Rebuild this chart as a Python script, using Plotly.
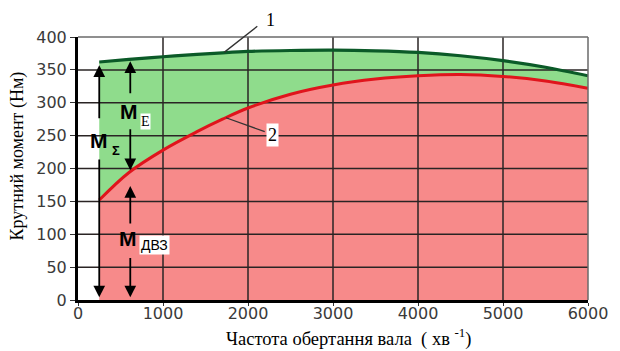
import numpy as np
import plotly.graph_objects as go

# Engine speed, rpm
rpm = [250, 600, 1000, 1400, 1700, 2000, 2500, 3000, 3500, 4000, 4500, 5000, 5500, 6000]
# Curve 1: total torque M_Σ (engine + electric motor), N·m
torque_total = [362, 366, 370, 373.5, 376, 378, 379.5, 380, 379, 376.5, 371.5, 364, 354, 341]
# Curve 2: internal combustion engine torque M_ДВЗ, N·m
torque_ice = [152, 194, 228, 256, 275, 292, 313, 327, 336, 341, 343, 340, 333, 322]

x_ticks = [0, 1000, 2000, 3000, 4000, 5000, 6000]
y_ticks = [0, 50, 100, 150, 200, 250, 300, 350, 400]

X_MAX, Y_MAX = 6000, 400
GREEN_FILL = "#8fdc8c"
RED_FILL = "#f78a8a"
GREEN_LINE = "#0b5a28"
RED_LINE = "#e0141c"
GRID = "#2a2424"
SERIF = "Liberation Serif"
SANS = "Liberation Sans"

fig = go.Figure()

# filled areas: engine share (red) below curve 2, electric share (green) between curves
fig.add_trace(go.Scatter(x=rpm, y=torque_ice, mode="lines", fill="tozeroy",
                         fillcolor=RED_FILL, line=dict(width=0, shape="spline"),
                         hoverinfo="skip", showlegend=False))
fig.add_trace(go.Scatter(x=rpm, y=torque_total, mode="lines", fill="tonexty",
                         fillcolor=GREEN_FILL, line=dict(width=0, shape="spline"),
                         hoverinfo="skip", showlegend=False))

# grid drawn over the fills
gx, gy = [], []
for t in x_ticks[1:-1]:
    gx += [t, t, None]
    gy += [0, Y_MAX, None]
for t in y_ticks[1:-1]:
    gx += [0, X_MAX, None]
    gy += [t, t, None]
fig.add_trace(go.Scatter(x=gx, y=gy, mode="lines", line=dict(color=GRID, width=1.5),
                         hoverinfo="skip", showlegend=False))

# the two torque curves
fig.add_trace(go.Scatter(x=rpm, y=torque_ice, mode="lines",
                         line=dict(color=RED_LINE, width=3, shape="spline"),
                         showlegend=False))
fig.add_trace(go.Scatter(x=rpm, y=torque_total, mode="lines",
                         line=dict(color=GREEN_LINE, width=3.2, shape="spline"),
                         showlegend=False))

annotations = []


def arrow(x, y_from, y_to):
    annotations.append(dict(x=x, y=y_to, ax=x, ay=y_from, xref="x", yref="y",
                            axref="x", ayref="y", text="", showarrow=True,
                            arrowhead=2, arrowsize=1.3, arrowwidth=1.8,
                            arrowcolor="black", standoff=0, startstandoff=0))


def leader(x0, y0, x1, y1):
    annotations.append(dict(x=x1, y=y1, ax=x0, ay=y0, xref="x", yref="y",
                            axref="x", ayref="y", text="", showarrow=True,
                            arrowhead=0, arrowwidth=1.3, arrowcolor="#333"))


def label(x, y, text, size, family, bg=None, bold=False, pad=1, yref="y"):
    annotations.append(dict(x=x, y=y, xref="x", yref=yref,
                            text=f"<b>{text}</b>" if bold else text,
                            showarrow=False, font=dict(size=size, family=family, color="black"),
                            bgcolor=bg, borderpad=pad, xanchor="center", yanchor="middle"))


# M_Σ arrow at the start of the curves
x1 = rpm[0]
arrow(x1, 274, torque_total[0] - 5)
arrow(x1, 216, 4)
label(x1 - 5, 243, "M", 21, SANS, bold=True)
label(447, 227, "Σ", 13, SANS, bold=True)

# M_E and M_ДВЗ arrows
x2 = 615
ice_at_x2 = float(np.interp(x2, rpm, torque_ice))
tot_at_x2 = float(np.interp(x2, rpm, torque_total))
arrow(x2, 312, tot_at_x2 - 3)
arrow(x2, 262, ice_at_x2 + 2)
arrow(x2, 114, ice_at_x2 - 22)
arrow(x2, 66, 4)
label(600, 286, "M", 21, SANS, bold=True)
label(790, 271, "E", 14, SERIF, bg="white", pad=0)
label(590, 93, "M", 21, SANS, bold=True)
label(902, 83, "ДВЗ", 14, SANS, bg="white", pad=1)

# curve markers ("1" sits above the top of the y range, so it is placed in paper units)
leader(2127, 418, 1723, 377)
label(2266, 426 / Y_MAX, "1", 18, SERIF, yref="paper")
leader(1723, 278, 2197, 256)
label(2289, 251, "2", 18, SERIF, bg="white", pad=1)

# axis titles
annotations.append(dict(x=0.5, y=0.0, xref="paper", yref="paper",
                        text="Частота обертання вала  ( хв <sup>-1</sup>)",
                        showarrow=False, xanchor="center", yanchor="bottom", xshift=15, yshift=-52,
                        font=dict(size=18.5, family=SERIF, color="black")))
annotations.append(dict(x=0.0, y=0.5, xref="paper", yref="paper", text="Крутний момент (Нм)",
                        showarrow=False, textangle=-90, xanchor="center", yanchor="middle",
                        xshift=-61, yshift=12, font=dict(size=18, family=SERIF, color="black")))

# light frame on the top and right
shapes = [
    dict(type="line", xref="paper", yref="paper", x0=1, x1=1, y0=0, y1=1,
         line=dict(color="#6a6a6a", width=1.5), layer="above"),
    dict(type="line", xref="paper", yref="paper", x0=0, x1=1, y0=1, y1=1,
         line=dict(color="#6a6a6a", width=1.5), layer="above"),
]

fig.update_layout(
    width=620, height=351,
    margin=dict(l=78, r=23, t=37, b=51),
    paper_bgcolor="white", plot_bgcolor="white",
    annotations=annotations, shapes=shapes,
    xaxis=dict(range=[0, X_MAX], tickvals=x_ticks, showgrid=False, zeroline=False,
               showline=True, linecolor="black", linewidth=3, ticks="outside", ticklen=3,
               tickcolor="#333", tickfont=dict(size=16, family="DejaVu Sans", color="#3a3a3a"),
               ticklabelstandoff=-6, layer="above traces"),
    yaxis=dict(range=[0, Y_MAX], tickvals=y_ticks, showgrid=False, zeroline=False,
               showline=True, linecolor="black", linewidth=3, ticks="outside", ticklen=5,
               tickcolor="#333", tickfont=dict(size=16, family="DejaVu Sans", color="#3a3a3a"),
               layer="above traces"),
)

fig.write_html("out.html")
